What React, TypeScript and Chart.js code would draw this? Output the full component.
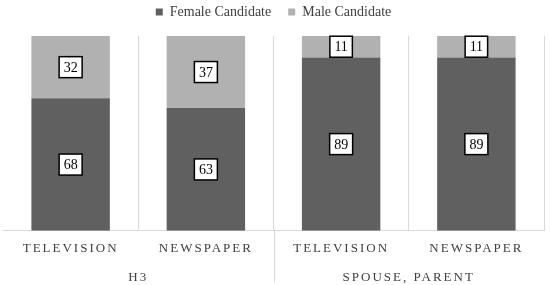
import { useEffect, useRef } from 'react';
import { Chart, registerables } from 'chart.js';

Chart.register(...registerables);

const categories = ['TELEVISION', 'NEWSPAPER', 'TELEVISION', 'NEWSPAPER'];
const groups = ['H3', 'SPOUSE, PARENT'];
const seriesNames = ['Female Candidate', 'Male Candidate'];
const femaleValues = [68, 63, 89, 89];
const maleValues = [32, 37, 11, 11];

const FONT = "'Liberation Serif', 'Times New Roman', serif";
const GRID = '#d9d9d9';
const TEXT = '#404040';

const boxLabels = {
  id: 'boxLabels',
  afterInit(chart: any) {
    const legend = chart.legend;
    if (legend && !legend.__patched) {
      const orig = legend.fit.bind(legend);
      legend.fit = function () {
        orig();
        this.height = 36;
      };
      legend.__patched = true;
    }
  },
  afterLayout(chart: any) {
    const legend = chart.legend;
    if (legend) {
      legend.top = -12;
    }
  },
  afterDatasetsDraw(chart: any) {
    const ctx = chart.ctx;
    ctx.save();
    ctx.font = `14px ${FONT}`;
    ctx.textAlign = 'center';
    ctx.textBaseline = 'middle';
    chart.data.datasets.forEach((ds: any, di: number) => {
      const meta = chart.getDatasetMeta(di);
      meta.data.forEach((el: any, i: number) => {
        const txt = String(ds.data[i]);
        const cx = el.x;
        const cy = (el.y + el.base) / 2;
        const w = ctx.measureText(txt).width + 9;
        const h = 21;
        ctx.fillStyle = '#ffffff';
        ctx.fillRect(cx - w / 2, cy - h / 2, w, h);
        ctx.lineWidth = 1.5;
        ctx.strokeStyle = '#000000';
        ctx.strokeRect(cx - w / 2, cy - h / 2, w, h);
        ctx.fillStyle = '#000000';
        ctx.fillText(txt, cx, cy + 1);
      });
    });
    ctx.restore();
    ctx.letterSpacing = '2px';
  },
  afterDraw(chart: any) {
    const ctx = chart.ctx;
    ctx.letterSpacing = '0px';
    const x = chart.scales.x;
    const sep = (x.getPixelForTick(1) + x.getPixelForTick(2)) / 2;
    ctx.save();
    ctx.strokeStyle = GRID;
    ctx.lineWidth = 1;
    ctx.beginPath();
    ctx.moveTo(Math.round(sep) + 0.5, chart.chartArea.bottom);
    ctx.lineTo(Math.round(sep) + 0.5, 282);
    ctx.stroke();
    ctx.restore();
  },
};

export default function App() {
  const ref = useRef<HTMLCanvasElement>(null);
  useEffect(() => {
    if (!ref.current) return;
    const chart = new Chart(ref.current, {
      type: 'bar',
      data: {
        labels: categories,
        datasets: [
          { label: seriesNames[0], data: femaleValues, backgroundColor: '#606060', borderWidth: 0 },
          { label: seriesNames[1], data: maleValues, backgroundColor: '#b1b1b1', borderWidth: 0 },
        ],
      },
      options: {
        responsive: false,
        animation: false,
        devicePixelRatio: 1,
        categoryPercentage: 1,
        barPercentage: 0.58,
        layout: { padding: { left: 3, right: 6, top: 0, bottom: -3 } },
        plugins: {
          legend: {
            position: 'top',
            labels: {
              font: { family: FONT, size: 14 },
              color: TEXT,
              boxWidth: 7,
              boxHeight: 7,
              padding: 17,
            },
          },
          tooltip: { enabled: false },
        },
        scales: {
          x: {
            type: 'category',
            stacked: true,
            offset: true,
            weight: 0,
            grid: {
              offset: true,
              drawTicks: false,
              color: (c: any) => (c.index === 0 || c.index >= categories.length ? 'rgba(0,0,0,0)' : GRID),
              lineWidth: 1,
            },
            border: { display: true, color: GRID, width: 1 },
            ticks: {
              font: { family: FONT, size: 13 },
              color: TEXT,
              padding: 10,
              z: 1,
              maxRotation: 0,
              autoSkip: false,
            },
          },
          x2: {
            type: 'category',
            labels: groups,
            position: 'bottom',
            offset: true,
            weight: 1,
            grid: { display: false, drawTicks: false },
            border: { display: false },
            ticks: {
              font: { family: FONT, size: 13 },
              color: TEXT,
              padding: 3,
              z: 1,
              maxRotation: 0,
              autoSkip: false,
            },
          },
          y: {
            stacked: true,
            display: false,
            min: 0,
            max: 100,
          },
        },
      } as any,
      plugins: [boxLabels],
    });
    return () => chart.destroy();
  }, []);
  return (
    <div style={{ position: 'fixed', left: 0, top: 0, width: 550, height: 285, background: '#fff' }}>
      <canvas ref={ref} width={550} height={285} style={{ display: 'block' }} />
    </div>
  );
}
